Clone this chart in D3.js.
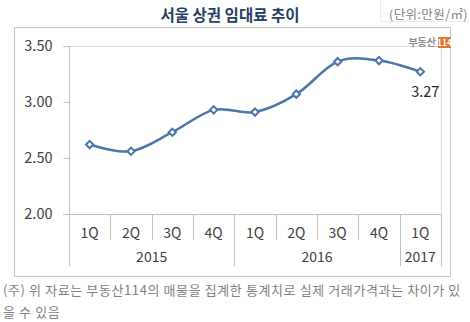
<!DOCTYPE html>
<html><head><meta charset="utf-8">
<script src="https://cdn.jsdelivr.net/npm/d3@7"></script>
<style>
html,body{margin:0;padding:0;background:#fff;}
svg{display:block;}
text{font-family:"Noto Sans CJK KR","Noto Sans",sans-serif;}
</style></head>
<body><svg id="c" width="470" height="322"></svg>
<script>
const quarters = ["1Q","2Q","3Q","4Q","1Q","2Q","3Q","4Q","1Q"];
const years = [{label:"2015", start:0, end:4},{label:"2016", start:4, end:8},{label:"2017", start:8, end:9}];
const values = [2.62, 2.56, 2.73, 2.93, 2.91, 3.07, 3.36, 3.37, 3.27];
const yTicks = [2.00, 2.50, 3.00, 3.50];
const title = "서울 상권 임대료 추이";
const unitText = "(단위:만원/㎡)";
const footnote = ["(주) 위 자료는 부동산114의 매물을 집계한 통계치로 실제 거래가격과는 차이가 있", "을 수 있음"];

const svg = d3.select("#c");
const blue = "#4a76a8";
const axisGray = "#bfbfbf";
const textGray = "#404040";

// chart frame
svg.append("rect").attr("x",14.5).attr("y",27.5).attr("width",436).attr("height",249)
  .attr("fill","#fff").attr("stroke","#c6c6c6");

// unit box
svg.append("path").attr("d","M380.5,0 V21.5 H470").attr("fill","none").attr("stroke","#ececec");
svg.append("text").attr("x",468).attr("y",19).attr("text-anchor","end")
  .attr("font-size",12.5).attr("letter-spacing",0.4).attr("fill","#7f7f7f").text(unitText);

// title
svg.append("text").attr("x",230).attr("y",21).attr("text-anchor","middle")
  .attr("font-size",15.5).attr("font-weight","bold").attr("fill","#243f60").text(title);

const x = d3.scaleBand().domain(d3.range(quarters.length)).range([69,441]).padding(0);
const y = d3.scaleLinear().domain([2,3.5]).range([214,46]);

// plot border (top & right)
svg.append("path").attr("d",`M69,${y(3.5)+0.5} H${441.5} V${y(2)}`).attr("fill","none").attr("stroke","#d9d9d9");

// y axis
const yAxis = d3.axisLeft(y).tickValues(yTicks).tickFormat(d3.format(".2f")).tickSize(6).tickPadding(11);
const yg = svg.append("g").attr("transform","translate(69.5,0)").call(yAxis);
yg.select(".domain").attr("stroke",axisGray).attr("d",`M-6,${y(3.5)+0.5}H0V${y(2)+0.5}H-6`);
yg.selectAll(".tick line").attr("stroke",axisGray);
yg.selectAll(".tick text").attr("font-size",14.5).attr("fill",textGray)
  .style("font-family",'"Noto Sans CJK KR",sans-serif');

// x axis baseline
svg.append("line").attr("x1",63).attr("x2",441).attr("y1",y(2)+0.5).attr("y2",y(2)+0.5).attr("stroke",axisGray);

// separators
const yearBounds = new Set();
years.forEach(yr=>{yearBounds.add(yr.start);yearBounds.add(yr.end);});
for(let i=0;i<=quarters.length;i++){
  const xx = i<quarters.length ? x(i) : x(quarters.length-1)+x.bandwidth();
  const bottom = yearBounds.has(i) ? 266 : 240;
  svg.append("line").attr("x1",Math.round(xx)+0.5).attr("x2",Math.round(xx)+0.5)
    .attr("y1",y(2)).attr("y2",bottom).attr("stroke",axisGray);
}

// quarter labels
svg.append("g").selectAll("text").data(quarters).join("text")
  .attr("x",(d,i)=>x(i)+x.bandwidth()/2).attr("y",238).attr("text-anchor","middle")
  .attr("font-size",14).attr("fill",textGray).text(d=>d);

// year labels
svg.append("g").selectAll("text").data(years).join("text")
  .attr("x",d=>(x(d.start)+ (d.end<quarters.length? x(d.end) : x(quarters.length-1)+x.bandwidth()))/2)
  .attr("y",262).attr("text-anchor","middle")
  .attr("font-size",14).attr("fill",textGray).text(d=>d.label);

// line
const line = d3.line().x((d,i)=>x(i)+x.bandwidth()/2).y(d=>y(d)).curve(d3.curveCardinal.tension(0));
svg.append("path").datum(values).attr("d",line).attr("fill","none").attr("stroke",blue).attr("stroke-width",2.5);

// markers
const diamond = d3.symbol().type(d3.symbolDiamond2).size(34);
svg.append("g").selectAll("path").data(values).join("path")
  .attr("d",diamond)
  .attr("transform",(d,i)=>`translate(${x(i)+x.bandwidth()/2},${y(d)})`)
  .attr("fill","#fff").attr("stroke",blue).attr("stroke-width",2);

// data label on last point
const last = values.length-1;
svg.append("text").attr("x",x(last)+x.bandwidth()/2+5).attr("y",y(values[last])+25)
  .attr("text-anchor","middle").attr("font-size",14.5).attr("fill","#262626")
  .text(values[last].toFixed(2));

// logo
svg.append("text").attr("x",436).attr("y",46).attr("text-anchor","end")
  .attr("font-size",10).attr("font-weight","bold").attr("fill","#8c8c8c").text("부동산");
svg.append("rect").attr("x",438).attr("y",37).attr("width",13).attr("height",11).attr("fill","#e0782a");
svg.append("text").attr("x",444.5).attr("y",46).attr("text-anchor","middle")
  .attr("font-size",8.5).attr("font-weight","bold").attr("fill","#fff").text("114");

// footnote
svg.append("g").selectAll("text").data(footnote).join("text")
  .attr("x",3).attr("y",(d,i)=>295+i*22).attr("font-size",13).attr("fill","#7f7f7f")
  .attr("letter-spacing",0.6).text(d=>d);
</script></body></html>
